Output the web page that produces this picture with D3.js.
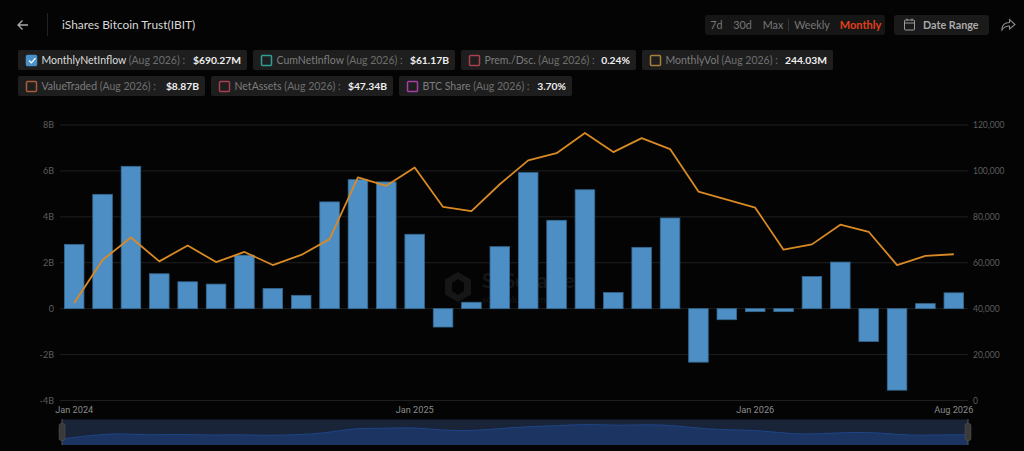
<!DOCTYPE html>
<html><head><meta charset="utf-8">
<style>
html,body{margin:0;padding:0;background:#040404;overflow:hidden}
svg{display:block;font-family:Lato,"Open Sans",sans-serif}
</style>
<script src="https://cdn.jsdelivr.net/npm/d3@7/dist/d3.min.js"></script>
</head><body><svg id="c" width="1024" height="451"></svg>
<script>
const months=["Jan 2024","Feb 2024","Mar 2024","Apr 2024","May 2024","Jun 2024","Jul 2024","Aug 2024","Sep 2024","Oct 2024","Nov 2024","Dec 2024","Jan 2025","Feb 2025","Mar 2025","Apr 2025","May 2025","Jun 2025","Jul 2025","Aug 2025","Sep 2025","Oct 2025","Nov 2025","Dec 2025","Jan 2026","Feb 2026","Mar 2026","Apr 2026","May 2026","Jun 2026","Jul 2026","Aug 2026"];
const netInflowB=[2.8,4.98,6.2,1.52,1.17,1.07,2.33,0.88,0.58,4.65,5.62,5.52,3.24,-0.8,0.28,2.7,5.93,3.85,5.18,0.7,2.67,3.95,-2.33,-0.48,-0.13,-0.13,1.4,2.03,-1.43,-3.55,0.22,0.69];
const btcPrice=[42500,61200,71000,60600,67500,60300,64700,59000,63400,70300,97200,93500,101500,84300,82500,94200,104600,107700,116500,108200,114300,109500,91000,87500,84000,65700,68000,76600,73500,59000,63000,63700];
const leftTicks=[-4,-2,0,2,4,6,8];
const rightTicks=[0,20000,40000,60000,80000,100000,120000];
const xLabels=["Jan 2024","Jan 2025","Jan 2026","Aug 2026"];
const chipNames=["MonthlyNetInflow","CumNetInflow","Prem./Dsc.","MonthlyVol","ValueTraded","NetAssets","BTC Share"];
const chipValues=["$690.27M","$61.17B","0.24%","244.03M","$8.87B","$47.34B","3.70%"];
const chipPeriod="(Aug 2026) :";
const chipColors=["#4a90c8","#2f9e94","#a8414f","#a97f3e","#a85c3a","#a8414f","#a63fa8"];
const chipBoxes=[[18,247,50],[253,455,50],[461,636,50],[642,833,50],[18,205,76],[211,393,76],[399,572,76]];
const ranges=["7d","30d","Max","Weekly"];
const rangeX=[716.5,742.5,773,812];

const svg=d3.select("#c");
const F='Lato,"Open Sans",sans-serif';
const plotL=60,plotR=968,plotT=125,plotB=400.5;
const x=d3.scaleBand().domain(months).range([plotL,plotR]).paddingInner(0.31).paddingOuter(0.155);
const y=d3.scaleLinear().domain([-4,8]).range([plotB,plotT]);
const y2=d3.scaleLinear().domain([0,120000]).range([plotB,plotT]);
const cx=m=>x(m)+x.bandwidth()/2;

// header
const hdr=svg.append("g");
hdr.append("path").attr("d","M28 25H18M22.5 20.5L18 25L22.5 29.5").attr("fill","none").attr("stroke","#aaa").attr("stroke-width",1.3);
hdr.append("line").attr("x1",47.5).attr("x2",47.5).attr("y1",13).attr("y2",36).attr("stroke","#222");
hdr.append("text").attr("x",62).attr("y",29).attr("fill","#d8d8d8").attr("font-size",11.9).text("iShares Bitcoin Trust(IBIT)");

hdr.append("rect").attr("x",705).attr("y",15).attr("width",180).attr("height",20).attr("rx",3).attr("fill","#161616");
hdr.selectAll("text.r").data(ranges).join("text").attr("class","r").attr("x",(d,i)=>rangeX[i]).attr("y",29).attr("text-anchor","middle").attr("fill","#777").attr("font-size",10.8).text(d=>d);
hdr.append("line").attr("x1",788.5).attr("x2",788.5).attr("y1",19).attr("y2",31).attr("stroke","#333");
hdr.append("text").attr("x",860.5).attr("y",29).attr("text-anchor","middle").attr("fill","#e2401c").attr("font-size",11).attr("font-weight",700).text("Monthly");
hdr.append("rect").attr("x",894).attr("y",15).attr("width",95).attr("height",20).attr("rx",3).attr("fill","#1a1a1a");
hdr.append("rect").attr("x",904.5).attr("y",20).attr("width",10).attr("height",10).attr("rx",1).attr("fill","none").attr("stroke","#999");
hdr.append("path").attr("d","M904.5 23H914.5M907 18.5V21M912 18.5V21").attr("stroke","#999").attr("fill","none");
hdr.append("text").attr("x",923).attr("y",29).attr("fill","#aaa").attr("font-size",10.8).attr("font-weight",700).text("Date Range");
hdr.append("path").attr("d","M1002 30C1002 25 1005 22.5 1009.5 22.5V19.5L1015 24.5L1009.5 29V26C1006 26 1004 27 1002 30Z").attr("fill","none").attr("stroke","#888").attr("stroke-width",1.1);

// chips
chipNames.forEach((n,i)=>{
  const [a,b,t]=chipBoxes[i];
  const g=svg.append("g");
  g.append("rect").attr("x",a).attr("y",t).attr("width",b-a).attr("height",20).attr("rx",2).attr("fill","#1e1e1e");
  g.append("rect").attr("x",a+8.5).attr("y",t+5.5).attr("width",10).attr("height",10).attr("rx",1)
   .attr("fill",i===0?chipColors[i]:"none").attr("stroke",chipColors[i]).attr("stroke-width",1.5);
  if(i===0) g.append("path").attr("d",`M${a+11} ${t+10.5}l2.3 2.4l4.2 -4.6`).attr("fill","none").attr("stroke","#fff").attr("stroke-width",1.3);
  const tx=g.append("text").attr("x",a+23.5).attr("y",t+14).attr("font-size",10.5);
  tx.append("tspan").attr("fill",i===0?"#ddd":"#7c7c7c").text(n+" ");
  tx.append("tspan").attr("fill","#6e6e6e").text(chipPeriod);
  g.append("text").attr("x",b-6).attr("y",t+14).attr("text-anchor","end").attr("font-size",10.3).attr("font-weight",700).attr("fill","#eee").text(chipValues[i]);
});

// grid + axes
const gy=svg.append("g").attr("transform",`translate(${plotL},0)`)
  .call(d3.axisLeft(y).tickValues(leftTicks).tickSize(0).tickPadding(6).tickFormat(d=>d===0?"0":d+"B"));
gy.select(".domain").remove();
gy.selectAll("text").attr("fill","#5e5e5e").attr("font-size",9).attr("font-family",F);
const gr=svg.append("g").attr("transform",`translate(${plotR},0)`)
  .call(d3.axisRight(y2).tickValues(rightTicks).tickSize(0).tickPadding(5).tickFormat(d3.format(",")));
gr.select(".domain").remove();
gr.selectAll("text").attr("fill","#5e5e5e").attr("font-size",8.5).attr("font-family",F);
svg.append("g").selectAll("line").data(leftTicks).join("line")
  .attr("x1",plotL).attr("x2",plotR).attr("y1",d=>y(d)).attr("y2",d=>y(d)).attr("stroke","#1f1f1f").attr("stroke-width",1);

// watermark
const wm=svg.append("g");
wm.append("path").attr("d","M458 272L471 279.500V294.500L458 302L445 294.500V279.500Z M458 279L464 283V291L458 295L452 291V283Z").attr("fill","#161616").attr("fill-rule","evenodd");
wm.append("text").attr("x",482).attr("y",287.5).attr("font-size",20).attr("font-weight",700).attr("fill","#161616").text("SoSoValue");
wm.append("text").attr("x",482).attr("y",302.5).attr("font-size",10).attr("fill","#161616").text("sosovalue.com");

// bars
svg.append("g").selectAll("rect").data(months).join("rect")
  .attr("x",m=>x(m)).attr("width",x.bandwidth())
  .attr("y",(m,i)=>y(Math.max(0,netInflowB[i])))
  .attr("height",(m,i)=>Math.abs(y(netInflowB[i])-y(0)))
  .attr("fill","#4d8fc4").attr("stroke","#34678f").attr("stroke-width",0.8);

// line
svg.append("path").datum(btcPrice)
  .attr("d",d3.line().x((d,i)=>cx(months[i])).y(d=>y2(d)))
  .attr("fill","none").attr("stroke","#d98a24").attr("stroke-width",1.8).attr("stroke-linejoin","round");

// x labels
svg.append("g").selectAll("text").data(xLabels).join("text")
  .attr("x",d=>cx(d))
  .attr("y",413).attr("text-anchor","middle").attr("fill","#8a8a8a").attr("font-size",9.2).attr("font-family","Roboto,sans-serif").text(d=>d);

// navigator
const navL=62,navR=968,navT=419.5,navB=445;
const nx=d3.scalePoint().domain(months).range([navL,navR]);
const ny=d3.scaleLinear().domain([13000,116500]).range([navB,424]);
svg.append("rect").attr("x",navL).attr("y",navT).attr("width",navR-navL).attr("height",navB-navT).attr("fill","#1a2438");
svg.append("path").datum(btcPrice).attr("fill","#1b3461")
  .attr("d",d3.area().x((d,i)=>nx(months[i])).y0(navB).y1(d=>ny(d)).curve(d3.curveBasis));
svg.append("path").datum(btcPrice).attr("fill","none").attr("stroke","#1e4486").attr("stroke-width",1)
  .attr("d",d3.line().x((d,i)=>nx(months[i])).y(d=>ny(d)).curve(d3.curveBasis));
[navL,navR].forEach(v=>{
  svg.append("line").attr("x1",v).attr("x2",v).attr("y1",419).attr("y2",445).attr("stroke","#555");
  svg.append("rect").attr("x",v-3).attr("y",423.5).attr("width",6).attr("height",17).attr("rx",2).attr("fill","#3a3a3a").attr("stroke","#555").attr("stroke-width",0.5);
});
</script></body></html>
